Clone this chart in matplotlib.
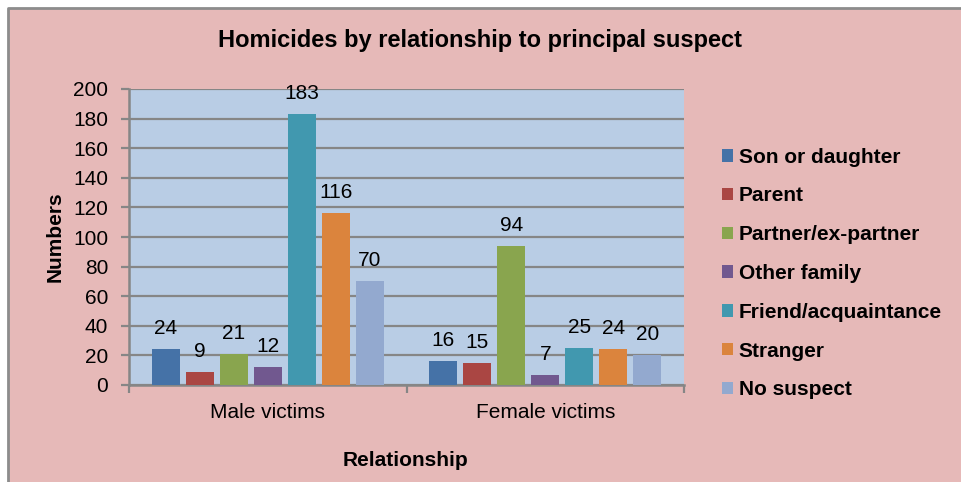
import matplotlib.pyplot as plt
import matplotlib.patches as mpatches
from matplotlib.lines import Line2D
import numpy as np

plt.rcParams['font.family'] = ['Liberation Sans', 'DejaVu Sans']

groups = ['Male victims', 'Female victims']
relations = ['Son or daughter', 'Parent', 'Partner/ex-partner', 'Other family',
             'Friend/acquaintance', 'Stranger', 'No suspect']
male = [24, 9, 21, 12, 183, 116, 70]
female = [16, 15, 94, 7, 25, 24, 20]
colors = ['#4572A7', '#AA4643', '#89A54E', '#71588F', '#4198AF', '#DB843D', '#93A9CF']

W, H = 961, 482
fig = plt.figure(figsize=(W / 100, H / 100), dpi=100)
fig.patch.set_facecolor('white')

# pink chart frame, only top and left border visible
x0, y1 = 8 / W, 1 - 8 / H
frame = mpatches.Rectangle((x0, 0), 1 - x0, y1, transform=fig.transFigure,
                           facecolor='#E6B9B8', edgecolor='none', zorder=-10)
fig.patches.append(frame)
fig.lines.append(Line2D([x0, x0, 1], [0, y1, y1], transform=fig.transFigure,
                        color='#8C8C8C', linewidth=2, zorder=-9))

ax = fig.add_axes([129 / W, 1 - 385 / H, (684 - 129) / W, (385 - 89) / H])
ax.set_zorder(1)
ax.set_facecolor('#B9CDE5')

fs = 15
pitch = 0.1225
width = 0.101
x = np.arange(len(groups))
for i, rel in enumerate(relations):
    vals = [male[i], female[i]]
    pos = x + (i - 3) * pitch
    ax.bar(pos, vals, width=width, color=colors[i], label=rel, zorder=3)
    for p, v in zip(pos, vals):
        ax.annotate(str(v), (p, v), xytext=(0, 8), textcoords='offset points',
                    ha='center', va='bottom', fontsize=fs, zorder=4,
                    annotation_clip=False)

ax.set_ylim(0, 200)
ax.set_xlim(-0.5, 1.5)
ax.set_yticks(np.arange(0, 201, 20))
ax.yaxis.grid(True, color='#868686', linewidth=1.6, zorder=1)
ax.set_axisbelow(True)

ax.set_xticks(x)
ax.set_xticklabels(groups, fontsize=fs)
ax.tick_params(axis='x', length=0, pad=13)
ax.set_xticks([-0.5, 0.5, 1.5], minor=True)
ax.tick_params(axis='x', which='minor', length=6, width=1.6, color='#868686')
ax.tick_params(axis='y', labelsize=fs, length=6, width=1.6, color='#868686', pad=9)

for s in ['top', 'right']:
    ax.spines[s].set_visible(False)
for s in ['left', 'bottom']:
    ax.spines[s].set_color('#868686')
    ax.spines[s].set_linewidth(1.8)

fig.text(480 / W, 1 - 41 / H, 'Homicides by relationship to principal suspect',
         ha='center', va='center', fontsize=17, fontweight='bold')
fig.text(55 / W, 1 - 237 / H, 'Numbers', ha='center', va='center', rotation=90,
         fontsize=fs, fontweight='bold')
fig.text(406 / W, 1 - 461 / H, 'Relationship', ha='center', va='center',
         fontsize=fs, fontweight='bold')

fig.legend(loc='center left', bbox_to_anchor=(722 / W, 1 - 273.5 / H),
           frameon=False, prop={'size': fs, 'weight': 'bold'},
           handlelength=0.55, handleheight=0.55, handletextpad=0.25,
           labelspacing=0.95, borderpad=0, borderaxespad=0)

fig.savefig('out.png', dpi=100)
